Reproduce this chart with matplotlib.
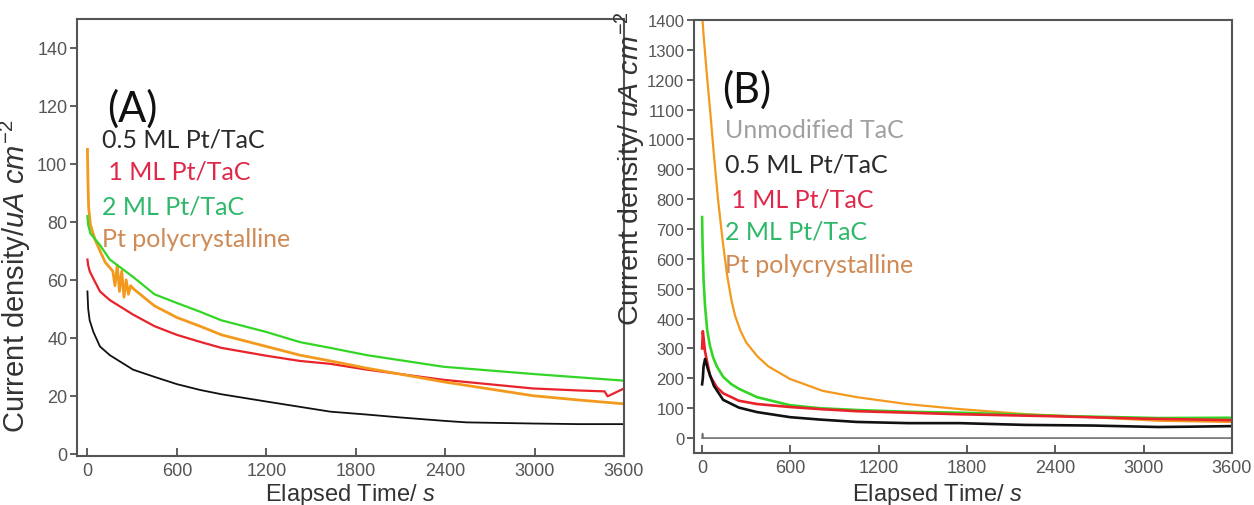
import matplotlib
matplotlib.use("Agg")
import matplotlib.pyplot as plt

plt.rcParams['font.family'] = ['Liberation Sans', 'DejaVu Sans']
plt.rcParams['mathtext.fontset'] = 'custom'
plt.rcParams['mathtext.rm'] = 'Liberation Sans'
plt.rcParams['mathtext.it'] = 'Liberation Sans:italic'

# ---------------- Panel A data ----------------
a_black_t = [0, 5, 15, 40, 84, 150, 306, 450, 600, 755, 900, 1200, 1630, 1875, 2100, 2400, 2545, 3000, 3300, 3600]
a_black_v = [56, 50, 46, 42, 37, 34, 29, 26.5, 24, 22, 20.5, 18, 14.5, 13.5, 12.5, 11.3, 10.8, 10.4, 10.2, 10.2]

a_green_t = [0, 5, 20, 84, 150, 306, 450, 600, 755, 900, 1200, 1426, 1630, 1875, 2388, 2990, 3600]
a_green_v = [82, 79, 76, 72, 67, 61, 55, 52, 49, 46, 42, 38.5, 36.5, 34, 30, 27.5, 25.2]

a_red_t = [0, 5, 15, 34, 84, 150, 306, 450, 600, 755, 900, 1200, 1426, 1630, 1875, 2388, 2990, 3300, 3470, 3490, 3600]
a_red_v = [67, 65, 63, 61, 56, 53, 48, 44, 41, 38.6, 36.5, 33.8, 32, 31, 29, 25.5, 22.5, 21.8, 21.5, 19.8, 22.5]

a_orange_t = [0, 3, 8, 20, 50, 84, 120, 170, 185, 200, 215, 230, 245, 260, 275, 290, 306, 450, 600,
              755, 900, 1200, 1426, 1630, 1875, 2388, 2990, 3300, 3600]
a_orange_v = [105, 95, 85, 79, 74, 70, 66, 63, 58, 65, 56, 63, 54, 60, 55, 58, 57, 51, 47,
              44, 41, 37, 34, 32, 29.5, 24.8, 20, 18.5, 17.2]

# ---------------- Panel B data ----------------
b_unmod_t = [0, 3, 6, 10, 30, 3600]
b_unmod_v = [0, 15, 0, 0, 0, 0]

b_black_t = [0, 5, 10, 20, 40, 80, 143, 250, 373, 597, 800, 1050, 1400, 1750, 2200, 2650, 3100, 3300, 3600]
b_black_v = [180, 200, 240, 265, 230, 175, 128, 102, 87, 70, 62, 54, 50, 50, 44, 42, 37, 38, 40]

b_red_t = [0, 5, 20, 54, 100, 143, 250, 373, 597, 800, 1050, 1400, 1729, 2400, 3000, 3600]
b_red_v = [300, 358, 290, 208, 170, 150, 125, 114, 104, 97, 90, 85, 80, 73, 65, 60]

b_green_t = [0, 3, 10, 20, 35, 54, 75, 100, 143, 200, 250, 373, 597, 800, 1050, 1400, 1750, 2430, 3100, 3600]
b_green_v = [740, 650, 530, 442, 360, 308, 270, 240, 205, 180, 165, 137, 110, 100, 94, 88, 85, 74, 67, 68]

b_orange_t = [0, 10, 30, 54, 80, 108, 140, 170, 200, 224, 260, 300, 373, 450, 597, 820, 1050, 1390, 1750,
              2200, 2650, 3100, 3600]
b_orange_v = [1420, 1350, 1230, 1100, 950, 800, 660, 545, 460, 410, 360, 320, 275, 240, 198, 158, 137, 114, 97,
              80, 70, 58, 54]

labels_A = ["0.5 ML Pt/TaC", " 1 ML Pt/TaC", "2 ML Pt/TaC", "Pt polycrystalline"]
labels_B = ["Unmodified TaC", "0.5 ML Pt/TaC", " 1 ML Pt/TaC", "2 ML Pt/TaC", "Pt polycrystalline"]

x_ticks = [0, 600, 1200, 1800, 2400, 3000, 3600]
a_yticks = list(range(0, 141, 20))
b_yticks = list(range(0, 1401, 100))

C_BLACK = '#111111'
C_RED = '#e8232b'
C_GREEN = '#33d626'
C_ORANGE = '#f39a1e'
C_GRAY = '#707070'

T_BLACK = '#2a2a2a'
T_RED = '#e0284a'
T_GREEN = '#2fb86a'
T_ORANGE = '#cf8a55'
T_GRAY = '#a0a0a0'

W, H = 1254, 506
fig = plt.figure(figsize=(W / 100, H / 100), dpi=100)

def px_axes(l, t, r, b):
    return fig.add_axes([l / W, 1 - b / H, (r - l) / W, (b - t) / H])

axA = px_axes(77, 20, 624, 457)
axB = px_axes(694, 21, 1232, 454)

lw = 1.6
axA.plot(a_black_t, a_black_v, color=C_BLACK, lw=1.3)
axA.plot(a_red_t, a_red_v, color=C_RED, lw=lw)
axA.plot(a_orange_t, a_orange_v, color=C_ORANGE, lw=lw + 0.4)
axA.plot(a_green_t, a_green_v, color=C_GREEN, lw=lw)

axB.plot(b_unmod_t, b_unmod_v, color=C_GRAY, lw=1.2)
axB.plot(b_orange_t, b_orange_v, color=C_ORANGE, lw=lw)
axB.plot(b_green_t, b_green_v, color=C_GREEN, lw=lw + 0.3)
axB.plot(b_red_t, b_red_v, color=C_RED, lw=lw + 0.3)
axB.plot(b_black_t, b_black_v, color=C_BLACK, lw=lw + 0.3)

axA.set_xlim(-70, 3600)
axA.set_ylim(-0.8, 150)
axB.set_xlim(-55, 3600)
axB.set_ylim(-50, 1400)

for ax, yt, ys in ((axA, a_yticks, 13), (axB, b_yticks, 12)):
    ax.set_xticks(x_ticks)
    ax.set_yticks(yt)
    ax.tick_params(axis='x', direction='in', length=6, width=1.2, colors='#444444',
                   labelsize=13, pad=4, labelcolor='#555555')
    ax.tick_params(axis='y', direction='out', length=5, width=1.2, colors='#444444',
                   labelsize=ys, pad=2, labelcolor='#555555')
    for s in ax.spines.values():
        s.set_color('#555555')
        s.set_linewidth(1.5)
    ax.set_xlabel("Elapsed Time/ $\\it{s}$", fontsize=17, color='#333333')

axA.set_ylabel("Current density/$\\it{uA\\ cm^{-2}}$", fontsize=21, color='#333333')
axB.set_ylabel("Current density/ $\\it{uA\\ cm^{-2}}$", fontsize=20.5, color='#333333')
axA.yaxis.set_label_coords(-0.080, 0.414)
axB.yaxis.set_label_coords(-0.085, 0.66)
axA.xaxis.set_label_coords(0.50, -0.058)
axB.xaxis.set_label_coords(0.452, -0.064)

def ftext(x, y, s, color, size=18):
    fig.text(x / W, 1 - y / H, s, color=color, fontsize=size,
             family=['Lato', 'DejaVu Sans'], va='center', ha='left')

ftext(107, 109, "(A)", '#111111', size=30)
colsA = [T_BLACK, T_RED, T_GREEN, T_ORANGE]
ysA = [140, 172, 207, 240]
for s, c, y in zip(labels_A, colsA, ysA):
    ftext(102, y, s, c)

ftext(722, 90, "(B)", '#111111', size=30)
colsB = [T_GRAY, T_BLACK, T_RED, T_GREEN, T_ORANGE]
ysB = [130, 165, 200, 232, 266]
for s, c, y in zip(labels_B, colsB, ysB):
    ftext(725, y, s, c)

fig.savefig("out.png", dpi=100)
